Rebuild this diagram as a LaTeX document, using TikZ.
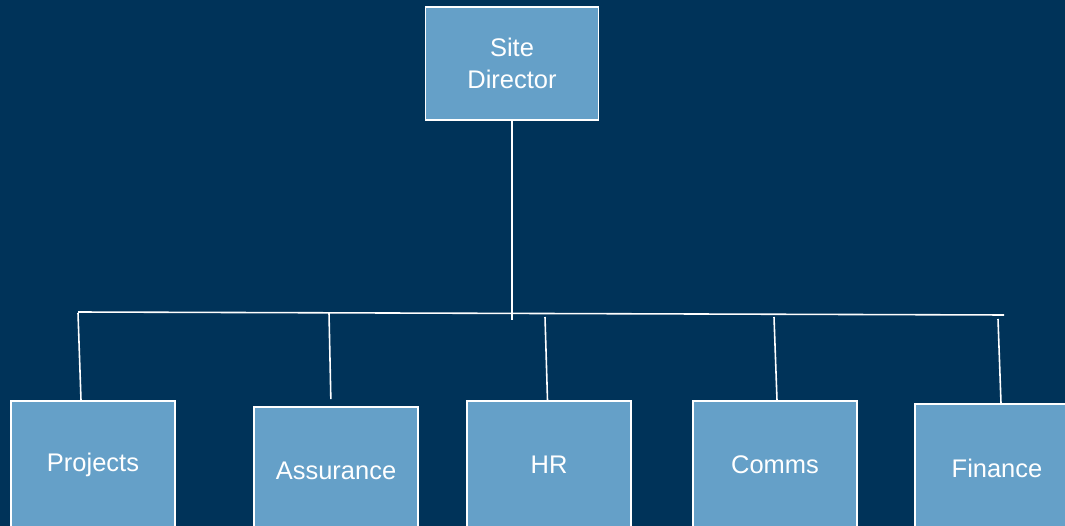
\documentclass[tikz,border=0pt]{standalone}
\usepackage{fontspec}
\setmainfont{Liberation Sans}
\definecolor{navy}{RGB}{0,51,89}
\definecolor{boxblue}{RGB}{101,160,200}

\begin{document}
\begin{tikzpicture}[x=0.02cm, y=-0.02cm,
	unit/.style={draw=white, line width=.9pt, fill=boxblue, text=white, inner sep=0pt,
		font=\fontsize{14.5}{18}\selectfont, align=center,
		minimum width=3.28cm, minimum height=2.56cm},
	link/.style={draw=white, line width=.9pt}]
	\useasboundingbox (0, 0) rectangle (1065, 526);
	\clip (0, 0) rectangle (1065, 526);
	\fill [navy] (0, 0) rectangle (1065, 526);
	
	% top
	\node [unit, minimum width=3.46cm, minimum height=2.26cm] (director) at (512, 63.5) {Site\\Director};
	
	% modules
	\node [unit] (projects) at (93, 465) {Projects};
	\node [unit] (assurance) at (336, 471) {Assurance};
	\node [unit] (hr) at (549, 465) {HR};
	\node [unit] (comms) at (775, 465) {Comms};
	\node [unit] (finance) at (997, 468) {Finance};
	
	% lines
	\coordinate (hub) at (512, 320);
	\coordinate (barL) at (78, 312);
	\coordinate (barR) at (1004, 315);
	\draw [link] (director.south) -- (hub);
	\draw [link] (barL) -- (barR);
	
	% drops
	\coordinate (tp) at (78, 313);
	\coordinate (ta) at (329, 313);
	\coordinate (th) at (545, 317);
	\coordinate (tc) at (774, 317);
	\coordinate (tf) at (998, 319);
	\draw [link] (tp) -- (81, 0 |- projects.north);
	\draw [link, shorten >=4pt] (ta) -- (331, 0 |- assurance.north);
	\draw [link] (th) -- (547.5, 0 |- hr.north);
	\draw [link] (tc) -- (777, 0 |- comms.north);
	\draw [link] (tf) -- (1001, 0 |- finance.north);
\end{tikzpicture}
\end{document}
